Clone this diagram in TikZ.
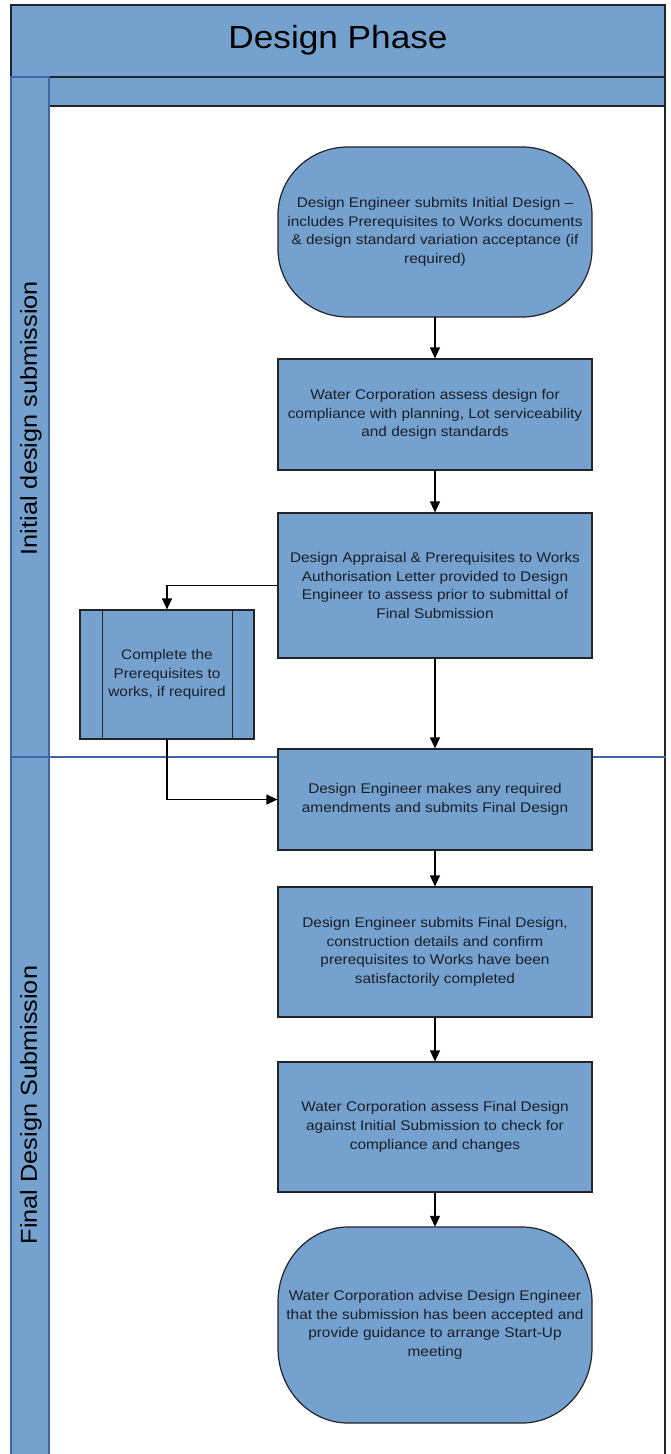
\documentclass[tikz,border=0pt]{standalone}
\usepackage{fontspec}
\setmainfont{Liberation Sans}[FakeStretch=1.1]
\usetikzlibrary{arrows.meta}
\definecolor{lanefill}{RGB}{116,161,206}
\definecolor{laneedge}{RGB}{66,100,168}
\definecolor{edge}{RGB}{35,35,40}
\definecolor{txt}{RGB}{28,30,38}
\begin{document}
\begin{tikzpicture}[x=1bp,y=-1bp,
  box/.style={draw=edge, fill=lanefill, line width=1.2bp, minimum width=314bp,
    align=center, text=txt, font=\fontsize{14bp}{18.7bp}\selectfont, inner sep=0pt},
  term/.style={draw=none, fill=none, minimum width=314bp, align=center, text=txt,
    font=\fontsize{14bp}{18.7bp}\selectfont, inner sep=0pt},
  termfill/.style={draw=edge, fill=lanefill, line width=1.2bp},
  arr/.style={draw=black, line width=1.2bp, -{Triangle[length=11bp,width=10bp]}},
  band/.style={draw=edge, fill=lanefill, line width=1.2bp},
  lanelabel/.style={rotate=90, text=black, font=\fontsize{23bp}{27bp}\selectfont, inner sep=0pt}
]
\useasboundingbox (0,0) rectangle (671,1454);

% outer frame and bands
\draw[edge, line width=1.2bp] (665,5) -- (665,1460);
\draw[band] (11,5) rectangle (665,77);
\node[text=black, font=\fontsize{32bp}{36bp}\selectfont, inner sep=0pt] (title) at (338,40) {Design Phase};
\draw[band] (49,77) rectangle (665,106);
\node[inner sep=0pt, minimum width=0pt] (hdr) at (357,92) {};

% lane column
\draw[draw=laneedge, fill=lanefill, line width=1.2bp] (11,77) rectangle (49,1460);
\draw[laneedge, line width=1.2bp] (11,757) -- (666,757);
\node[lanelabel] (lane1) at (31,418) {Initial design submission};
\node[lanelabel] (lane2) at (31,1105) {Final Design Submission};

% terminator 1 (L=278,R=592,T=147,B=317)
\path[termfill] (348,147) -- (522,147)
  arc[start angle=-90, end angle=0, x radius=70, y radius=68] -- (592,249)
  arc[start angle=0, end angle=90, x radius=70, y radius=68] -- (348,317)
  arc[start angle=90, end angle=180, x radius=70, y radius=68] -- (278,215)
  arc[start angle=180, end angle=270, x radius=70, y radius=68] -- cycle;
\node[term, minimum height=170bp] (t1) at (435,232)
  {Design Engineer submits Initial Design --\\includes Prerequisites to Works documents\\\& design standard variation acceptance (if\\required)};

\node[box, minimum height=111bp] (b2) at (435,414.5)
  {Water Corporation assess design for\\compliance with planning, Lot serviceability\\and design standards};

\node[box, minimum height=145bp] (b3) at (435,585.5)
  {Design Appraisal \& Prerequisites to Works\\Authorisation Letter provided to Design\\Engineer to assess prior to submittal of\\Final Submission};

\node[box, minimum width=174bp, minimum height=129bp] (pp) at (167,674.5)
  {Complete the\\Prerequisites to\\works, if required};
\draw[edge, line width=1.2bp] ([xshift=23bp]pp.north west) -- ([xshift=23bp]pp.south west);
\draw[edge, line width=1.2bp] ([xshift=-22bp]pp.north east) -- ([xshift=-22bp]pp.south east);

\node[box, minimum height=101bp] (b4) at (435,799.5)
  {Design Engineer makes any required\\amendments and submits Final Design};

\node[box, minimum height=130bp] (b5) at (435,952)
  {Design Engineer submits Final Design,\\construction details and confirm\\prerequisites to Works have been\\satisfactorily completed};

\node[box, minimum height=130bp] (b6) at (435,1127)
  {Water Corporation assess Final Design\\against Initial Submission to check for\\compliance and changes};

% terminator 2 (L=278,R=592,T=1227,B=1423)
\path[termfill] (348,1227) -- (522,1227)
  arc[start angle=-90, end angle=0, x radius=70, y radius=75] -- (592,1348)
  arc[start angle=0, end angle=90, x radius=70, y radius=75] -- (348,1423)
  arc[start angle=90, end angle=180, x radius=70, y radius=75] -- (278,1302)
  arc[start angle=180, end angle=270, x radius=70, y radius=75] -- cycle;
\node[term, minimum height=196bp] (t2) at (435,1325)
  {Water Corporation advise Design Engineer\\that the submission has been accepted and\\provide guidance to arrange Start-Up\\meeting};

% connectors
\draw[arr] (t1.south) -- (b2.north);
\draw[arr] (b2.south) -- (b3.north);
\draw[arr] (b3.west) -| (pp.north);
\draw[arr] (b3.south) -- (b4.north);
\draw[arr] (pp.south) |- (b4.west);
\draw[arr] (b4.south) -- (b5.north);
\draw[arr] (b5.south) -- (b6.north);
\draw[arr] (b6.south) -- (t2.north);
\end{tikzpicture}
\end{document}
